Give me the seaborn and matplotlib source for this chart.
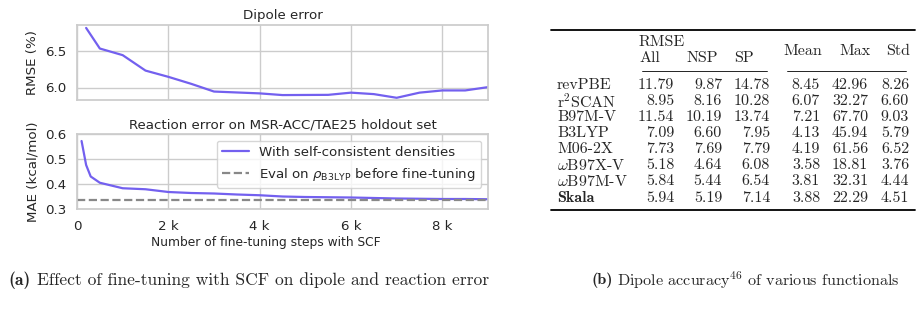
import numpy as np
import pandas as pd
import seaborn as sns
import matplotlib.pyplot as plt
from matplotlib.lines import Line2D

# === Data ===
dipole_steps = [200, 500, 1000, 1500, 2000, 2500, 3000, 4000, 4500, 5500, 6000, 6500, 7000, 7500, 8000, 8500, 9000]
dipole_rmse = [6.81, 6.53, 6.44, 6.23, 6.145, 6.05, 5.945, 5.92, 5.897, 5.90, 5.93, 5.91, 5.86, 5.93, 5.96, 5.96, 6.005]

reaction_steps = [100, 200, 300, 500, 1000, 1500, 2000, 2500, 3000, 3500, 4000, 4500, 5000,
                  5500, 6000, 6500, 7000, 7500, 8000, 8500, 9000]
reaction_mae = [0.572, 0.476, 0.43, 0.405, 0.383, 0.379, 0.368, 0.364, 0.362, 0.358, 0.355, 0.350,
                0.348, 0.347, 0.346, 0.344, 0.342, 0.341, 0.340, 0.340, 0.339]
b3lyp_mae = 0.336

xticks = [0, 2000, 4000, 6000, 8000]
xticklabels = ['0', '2 k', '4 k', '6 k', '8 k']

functionals = ['revPBE', r'r$^2$SCAN', 'B97M-V', 'B3LYP', 'M06-2X', r'$\omega$B97X-V', r'$\omega$B97M-V', 'Skala']
rmse_all = ['11.79', '8.95', '11.54', '7.09', '7.73', '5.18', '5.84', '5.94']
rmse_nsp = ['9.87', '8.16', '10.19', '6.60', '7.69', '4.64', '5.44', '5.19']
rmse_sp = ['14.78', '10.28', '13.74', '7.95', '7.79', '6.08', '6.54', '7.14']
mean_err = ['8.45', '6.07', '7.21', '4.13', '4.19', '3.58', '3.81', '3.88']
max_err = ['42.96', '32.27', '67.70', '45.94', '61.56', '18.81', '32.31', '22.29']
std_err = ['8.26', '6.60', '9.03', '5.79', '6.52', '3.76', '4.44', '4.51']

df_dip = pd.DataFrame({'step': dipole_steps, 'rmse': dipole_rmse})
df_rxn = pd.DataFrame({'step': reaction_steps, 'mae': reaction_mae})

# === Style ===
sns.set_theme(style='whitegrid')
plt.rcParams['font.family'] = ['DejaVu Sans']
plt.rcParams['mathtext.fontset'] = 'dejavusans'
fs = 9.6

W, H = 922, 317
fig = plt.figure(figsize=(W / 100, H / 100), dpi=100)

def px(x, y):
    return x / W, 1 - y / H

ax1 = fig.add_axes([77 / W, 1 - 100 / H, 411 / W, 75 / H])
ax2 = fig.add_axes([77 / W, 1 - 209 / H, 411 / W, 75 / H])

line_col = '#7360ef'

sns.lineplot(data=df_dip, x='step', y='rmse', ax=ax1, color=line_col, lw=1.6)
ax1.set_xlim(0, 9000)
ax1.set_ylim(5.83, 6.85)
ax1.set_yticks([6.0, 6.5])
ax1.set_xticks(xticks)
ax1.set_xticklabels([])
ax1.set_xlabel('')
ax1.set_ylabel('RMSE (%)', fontsize=fs)
ax1.set_title('Dipole error', fontsize=fs, pad=4)

sns.lineplot(data=df_rxn, x='step', y='mae', ax=ax2, color=line_col, lw=1.6,
             label='With self-consistent densities')
ax2.axhline(b3lyp_mae, color='#888888', ls='--', lw=1.6,
            label=r'Eval on $\rho_{\mathrm{B3LYP}}$ before fine-tuning')
ax2.set_xlim(0, 9000)
ax2.set_ylim(0.3, 0.6)
ax2.set_yticks([0.3, 0.4, 0.5, 0.6])
ax2.set_xticks(xticks)
ax2.set_xticklabels(xticklabels)
ax2.set_xlabel('Number of fine-tuning steps with SCF', fontsize=8.8)
ax2.xaxis.set_label_coords((266 - 77) / 411, -0.36)
ax2.set_ylabel('MAE (kcal/mol)', fontsize=fs)
ax2.set_title('Reaction error on MSR-ACC/TAE25 holdout set', fontsize=fs, pad=4)
ax2.legend(loc='upper right', fontsize=fs, frameon=True, borderaxespad=0.5)

for ax in (ax1, ax2):
    ax.tick_params(labelsize=fs, pad=2)
    for s in ax.spines.values():
        s.set_color('#cccccc')

# === Table ===
plt.rcParams['mathtext.fontset'] = 'cm'
rm = 'cmr10'
tsz = 11.5

def rule(x0, x1, y, lw):
    fig.add_artist(Line2D([x0 / W, x1 / W], [1 - y / H, 1 - y / H], color='black', lw=lw))

rule(551, 915, 29.5, 1.3)
rule(642, 767, 71, 0.6)
rule(787, 906, 71, 0.6)
rule(551, 915, 210, 1.3)

fig.text(*px(639, 42), 'RMSE', family=rm, fontsize=tsz, va='center', ha='left')
for lab, x in zip(['All', 'NSP', 'SP'], [639, 687, 734]):
    fig.text(*px(x, 58), lab, family=rm, fontsize=tsz, va='center', ha='left')
for lab, x in zip(['Mean', 'Max', 'Std'], [783, 839, 886]):
    fig.text(*px(x, 51), lab, family=rm, fontsize=tsz, va='center', ha='left')

col_right = [674, 722, 770, 820, 868, 909]
cols = [rmse_all, rmse_nsp, rmse_sp, mean_err, max_err, std_err]
for i, name in enumerate(functionals):
    y = 85 + i * 16.1
    bold = name == 'Skala'
    fig.text(*px(557, y), name, family='cmb10' if bold else rm, fontsize=tsz, va='center', ha='left')
    for xr, col in zip(col_right, cols):
        fig.text(*px(xr, y), col[i], family=rm, fontsize=tsz, va='center', ha='right')

# === Captions ===
fig.text(*px(8, 280), '(a)', family='cmb10', fontsize=12.6, va='center', ha='left')
fig.text(*px(37, 280), 'Effect of fine-tuning with SCF on dipole and reaction error',
         family=rm, fontsize=12.6, va='center', ha='left')
fig.text(*px(591, 280), '(b)', family='cmb10', fontsize=11.6, va='center', ha='left')
fig.text(*px(617, 280), r'Dipole accuracy$^{46}$ of various functionals',
         family=rm, fontsize=11.6, va='center', ha='left')

fig.savefig('out.png', dpi=100)
